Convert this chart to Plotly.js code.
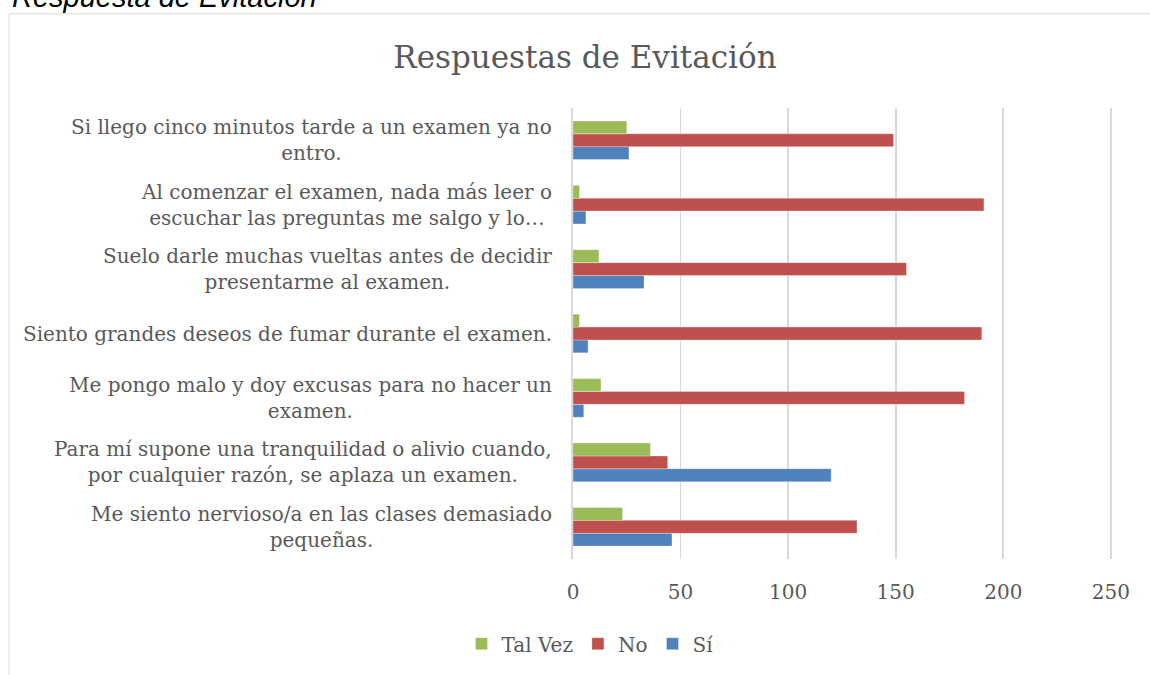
<!DOCTYPE html>
<html>
<head>
<meta charset="utf-8">
<script src="https://cdn.plot.ly/plotly-3.0.1.min.js"></script>
<style>
html,body{margin:0;padding:0;background:#fff;overflow:hidden;}
#chart{width:1150px;height:675px;}
</style>
</head>
<body>
<div id="chart"></div>
<script>
// Categories, bottom to top
const categories = [
  "Me siento nervioso/a en las clases demasiado<br>pequeñas.",
  "Para mí supone una tranquilidad o alivio cuando,<br>por cualquier razón, se aplaza un examen.",
  "Me pongo malo y doy excusas para no hacer un<br>examen.",
  "Siento grandes deseos de fumar durante el examen.",
  "Suelo darle muchas vueltas antes de decidir<br>presentarme al examen.",
  "Al comenzar el examen, nada más leer o<br>escuchar las preguntas me salgo y lo…",
  "Si llego cinco minutos tarde a un examen ya no<br>entro."
];
const si      = [46, 120, 5, 7, 33, 6, 26];
const no      = [132, 44, 182, 190, 155, 191, 149];
const talVez  = [23, 36, 13, 3, 12, 3, 25];
const seriesNames = ["Sí", "No", "Tal Vez"];
const xTicks = [0, 50, 100, 150, 200, 250];

const colors = {"Sí": "#4F81BD", "No": "#C0504D", "Tal Vez": "#9BBB59"};
const serif = "DejaVu Serif, Liberation Serif, serif";
const textColor = "#595959";

const valuesBySeries = [si, no, talVez];
const traces = seriesNames.map((name, i) => ({
  type: "bar",
  orientation: "h",
  name: name,
  y: categories,
  x: valuesBySeries[i],
  marker: {color: colors[name], line: {color: "rgba(255,255,255,0.6)", width: 0.5}},
  hoverinfo: "x+name"
}));

const L = 573, R = 36.5, T = 107.5, B = 112.5;
const pw = 1150 - L - R, ph = 675 - T - B;
const px2x = p => (p - L) / pw;
const py2y = p => (675 - B - p) / ph;

const annotations = categories.map(c => ({
  xref: "paper", yref: "y", x: 0, y: c,
  xanchor: "right", yanchor: "middle", xshift: -19,
  align: "center", showarrow: false, text: c,
  font: {family: serif, size: 20, color: textColor}
}));
annotations.push({
  xref: "paper", yref: "paper", x: px2x(9), y: py2y(-4),
  xanchor: "left", yanchor: "middle", showarrow: false,
  text: "<i>Respuesta de Evitación</i>",
  font: {family: "Liberation Sans, Arial, sans-serif", size: 29, color: "#000"}
});

const layout = {
  width: 1150, height: 675,
  margin: {l: L, r: R, t: T, b: B, pad: 0},
  paper_bgcolor: "#fff", plot_bgcolor: "#fff",
  barmode: "group", bargap: 0.4, bargroupgap: 0,
  title: {
    text: "Respuestas de Evitación",
    font: {family: serif, size: 31, color: textColor},
    xref: "paper", x: px2x(585), xanchor: "center",
    yref: "container", y: 1 - 57/675, yanchor: "middle"
  },
  xaxis: {
    range: [0, 251], tickvals: xTicks, ticktext: xTicks.map(String),
    showgrid: true, gridcolor: "#d9d9d9", gridwidth: 1.8,
    zeroline: false, showline: false, ticks: "",
    tickfont: {family: serif, size: 20, color: textColor},
    ticklabelstandoff: 19, fixedrange: true
  },
  yaxis: {
    type: "category", categoryorder: "array", categoryarray: categories,
    showticklabels: false, showgrid: false, zeroline: false,
    showline: true, linecolor: "#d9d9d9", linewidth: 1.8, ticks: "", fixedrange: true
  },
  showlegend: true,
  legend: {
    orientation: "h", traceorder: "reversed",
    x: px2x(590), xanchor: "center", y: py2y(648), yanchor: "middle",
    font: {family: serif, size: 20, color: textColor},
    itemwidth: 30, itemclick: false
  },
  annotations: annotations,
  shapes: [{
    type: "rect", xref: "paper", yref: "paper",
    x0: px2x(8.5), x1: px2x(1160), y0: py2y(690), y1: py2y(12.5),
    line: {color: "#d9d9d9", width: 1}, fillcolor: "rgba(0,0,0,0)", layer: "below"
  }]
};

Plotly.newPlot("chart", traces, layout, {displayModeBar: false, staticPlot: true});
</script>
</body>
</html>
